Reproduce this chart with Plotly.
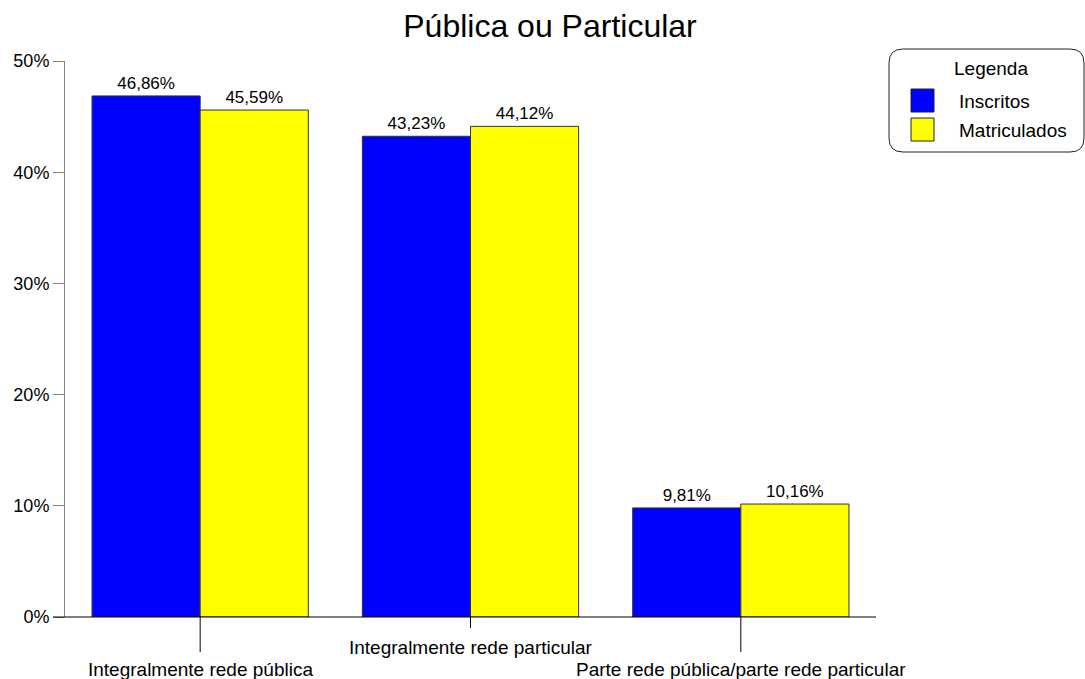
import plotly.graph_objects as go

categorias = ["Integralmente rede pública", "Integralmente rede particular",
              "Parte rede pública/parte rede particular"]
series = ["Inscritos", "Matriculados"]
inscritos = [46.86, 43.23, 9.81]
matriculados = [45.59, 44.12, 10.16]
cores = ["#0000FF", "#FFFF00"]
y_ticks = [0, 10, 20, 30, 40, 50]
y_ticklabels = [f"{v}%" for v in y_ticks]

W, H = 1085, 679
ML, MR, MT, MB = 65, 209, 61, 62
PW, PH = W - ML - MR, H - MT - MB


# pixel -> paper coords (for the hand-drawn legend and axis decorations)
def px(x):
    return (x - ML) / PW


def py(y):
    return (H - MB - y) / PH


font = "Arial, 'Liberation Sans', sans-serif"

fig = go.Figure()
for nome, vals, cor in zip(series, [inscritos, matriculados], cores):
    fig.add_trace(go.Bar(
        x=categorias, y=vals, name=nome,
        marker=dict(color=cor, line=dict(color="#333333", width=1)),
        texttemplate="%{y:.2f}%", textposition="outside",
        textfont=dict(size=17, color="black"),
        cliponaxis=False, showlegend=False
    ))

fig.update_layout(
    width=W, height=H,
    margin=dict(l=ML, r=MR, t=MT, b=MB),
    paper_bgcolor="white", plot_bgcolor="white",
    font=dict(family=font, color="black"),
    separators=",.",
    barmode="group", bargap=0.2, bargroupgap=0,
    title=dict(text="Pública ou Particular", x=px(550), xref="paper",
               y=1 - 26 / H, yanchor="middle", font=dict(size=32)),
    xaxis=dict(showticklabels=False, showline=False, ticks="",
               showgrid=False, range=[-0.5, 2.5]),
    yaxis=dict(range=[0, 50], tickvals=y_ticks, ticktext=y_ticklabels,
               showgrid=False, zeroline=False, showline=True,
               linecolor="#808080", linewidth=1, ticks="outside",
               ticklen=11, tickcolor="#808080",
               tickfont=dict(size=18)),
)

shapes = []
# x axis baseline extending past the y axis
shapes.append(dict(type="line", xref="paper", yref="paper",
                   x0=px(53), x1=1, y0=0, y1=0,
                   line=dict(color="black", width=1)))

# staggered category ticks and labels
tick_len = [py(652), py(628), py(652)]
label_y = [py(669), py(647), py(669)]
annotations = []
for i, cat in enumerate(categorias):
    shapes.append(dict(type="line", xref="x", yref="paper",
                       x0=i, x1=i, y0=0, y1=tick_len[i],
                       line=dict(color="black", width=1)))
    annotations.append(dict(text=cat, x=i, xref="x", y=label_y[i],
                            yref="paper", showarrow=False,
                            yanchor="middle", xanchor="center",
                            font=dict(size=19)))

# legend box with rounded corners
x0, x1, y0, y1, r = 889, 1084, 49, 152, 14
path = (f"M {px(x0 + r)},{py(y0)} L {px(x1 - r)},{py(y0)} "
        f"Q {px(x1)},{py(y0)} {px(x1)},{py(y0 + r)} "
        f"L {px(x1)},{py(y1 - r)} Q {px(x1)},{py(y1)} {px(x1 - r)},{py(y1)} "
        f"L {px(x0 + r)},{py(y1)} Q {px(x0)},{py(y1)} {px(x0)},{py(y1 - r)} "
        f"L {px(x0)},{py(y0 + r)} Q {px(x0)},{py(y0)} {px(x0 + r)},{py(y0)} Z")
shapes.append(dict(type="path", xref="paper", yref="paper", path=path,
                   line=dict(color="#222222", width=1), fillcolor="white"))
annotations.append(dict(text="Legenda", x=px(991), y=py(68), xref="paper",
                        yref="paper", showarrow=False, xanchor="center",
                        yanchor="middle", font=dict(size=19)))
for k, (nome, cor) in enumerate(zip(series, cores)):
    top = 89 + 29 * k
    shapes.append(dict(type="rect", xref="paper", yref="paper",
                       x0=px(911), x1=px(934), y0=py(top), y1=py(top + 23),
                       fillcolor=cor, line=dict(color="#222222", width=1)))
    annotations.append(dict(text=nome, x=px(957), y=py(top + 12),
                            xref="paper", yref="paper", showarrow=False,
                            xanchor="left", yanchor="middle",
                            font=dict(size=19)))

fig.update_layout(shapes=shapes, annotations=annotations)

# drop the default page margin so the figure sits at the window's corner
fig.write_html("out.html", config={"displayModeBar": False},
               post_script="document.body.style.margin='0';")
